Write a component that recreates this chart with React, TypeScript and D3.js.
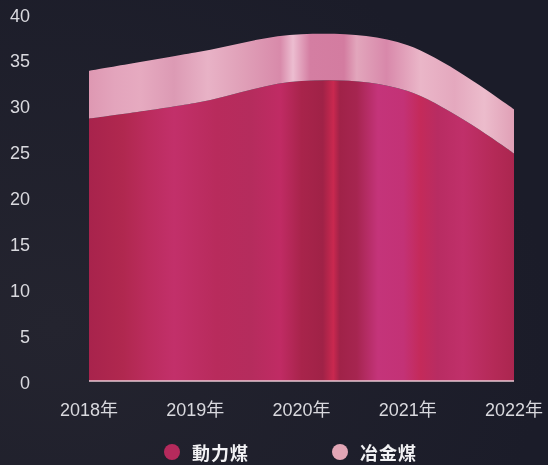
import { useMemo } from 'react'
import { area, curveCatmullRom, scaleLinear, scalePoint, stack } from 'd3'

const years = ['2018年', '2019年', '2020年', '2021年', '2022年']
const thermalCoal = [28.6, 30.3, 32.7, 31.6, 24.8]
const cokingCoal = [5.2, 5.5, 5.1, 5.0, 4.8]
const yTicks = [0, 5, 10, 15, 20, 25, 30, 35, 40]
const seriesNames = ['動力煤', '冶金煤']

const width = 548
const height = 465
const margin = { top: 14, right: 34, bottom: 84, left: 89 }

// vertical stripe colours, [offset, colour]
const darkStripes: [number, string][] = [
  [0, '#a8234c'], [0.08, '#b0284f'], [0.14, '#bb2c5e'], [0.2, '#c2306a'],
  [0.3, '#b82b5c'], [0.38, '#b52c5d'], [0.45, '#c02b64'], [0.5, '#a8244b'],
  [0.55, '#a02247'], [0.575, '#c9284f'], [0.59, '#a02248'], [0.63, '#a62550'],
  [0.68, '#c4347a'], [0.74, '#c33276'], [0.78, '#c42a5a'], [0.82, '#b82c62'],
  [0.88, '#c0306a'], [0.95, '#b52a58'], [1, '#ab264f'],
]
const lightStripes: [number, string][] = [
  [0, '#de98b2'], [0.06, '#e3a4bc'], [0.12, '#e6aac0'], [0.2, '#dc9ab4'],
  [0.28, '#e8b2c6'], [0.36, '#e0a0b8'], [0.45, '#d88aaa'], [0.48, '#ecbdd0'],
  [0.52, '#d47ea2'], [0.6, '#d37ca0'], [0.63, '#e2a6bc'], [0.7, '#d888aa'],
  [0.78, '#eab6c8'], [0.86, '#e4a8be'], [0.93, '#ecbccc'], [1, '#e0a0b6'],
]
const seriesColors = ['#b52a5c', '#e2a6b6']

export default function App() {
  const innerWidth = width - margin.left - margin.right
  const innerHeight = height - margin.top - margin.bottom

  const x = scalePoint<string>().domain(years).range([0, innerWidth])
  const y = scaleLinear().domain([0, 40]).range([innerHeight, 0])

  const rows = years.map((year, i) => ({ year, a: thermalCoal[i], b: cokingCoal[i] }))
  const layers = useMemo(() => stack<any>().keys(['a', 'b'])(rows), [])

  const areaGen = area<any>()
    .x((d) => x(d.data.year) ?? 0)
    .y0((d) => y(d[0]))
    .y1((d) => y(d[1]))
    .curve(curveCatmullRom)

  const fills = ['url(#stripeDark)', 'url(#stripeLight)']

  return (
    <div style={{ position: 'fixed', left: 0, top: 0 }}>
      <svg width={width} height={height} style={{ display: 'block' }}>
        <defs>
          <radialGradient id="bg" cx="0.1" cy="0.7" r="0.9">
            <stop offset="0" stopColor="#24242f" />
            <stop offset="1" stopColor="#1b1c29" />
          </radialGradient>
          <linearGradient id="stripeDark" x1="0" x2="1" y1="0" y2="0">
            {darkStripes.map(([o, c], i) => (
              <stop key={i} offset={o} stopColor={c} />
            ))}
          </linearGradient>
          <linearGradient id="stripeLight" x1="0" x2="1" y1="0" y2="0">
            {lightStripes.map(([o, c], i) => (
              <stop key={i} offset={o} stopColor={c} />
            ))}
          </linearGradient>
        </defs>
        <rect width={width} height={height} fill="url(#bg)" />
        <g transform={`translate(${margin.left}, ${margin.top})`}>
          {layers.map((layer, i) => (
            <path key={i} d={areaGen(layer) ?? ''} fill={fills[i]} />
          ))}
          <line
            x1={0}
            x2={innerWidth}
            y1={innerHeight}
            y2={innerHeight}
            stroke="#e9c9d3"
            strokeWidth={1.5}
          />
          {yTicks.map((t) => (
            <text
              key={t}
              x={30 - margin.left}
              y={y(t) + 1.5}
              textAnchor="end"
              dominantBaseline="central"
              fill="#d9d9de"
              fontSize={18}
              fontFamily="'Liberation Sans', Arial, sans-serif"
            >
              {t}
            </text>
          ))}
          {years.map((yr) => (
            <text
              key={yr}
              x={x(yr) ?? 0}
              y={innerHeight + 35}
              textAnchor="middle"
              fill="#d9d9de"
              fontSize={18}
              fontFamily="'Liberation Sans', 'Noto Sans CJK TC', sans-serif"
            >
              {yr}
            </text>
          ))}
        </g>
        <g transform="translate(0, 452)">
          {seriesNames.map((name, i) => (
            <g key={name} transform={`translate(${172 + i * 168}, 0)`}>
              <circle r={8} fill={seriesColors[i]} />
              <text
                x={20}
                dominantBaseline="central"
                fill="#f2f2f4"
                fontSize={18}
                fontWeight={600}
                fontFamily="'Noto Sans CJK TC', sans-serif"
                letterSpacing={1}
              >
                {name}
              </text>
            </g>
          ))}
        </g>
      </svg>
    </div>
  )
}
